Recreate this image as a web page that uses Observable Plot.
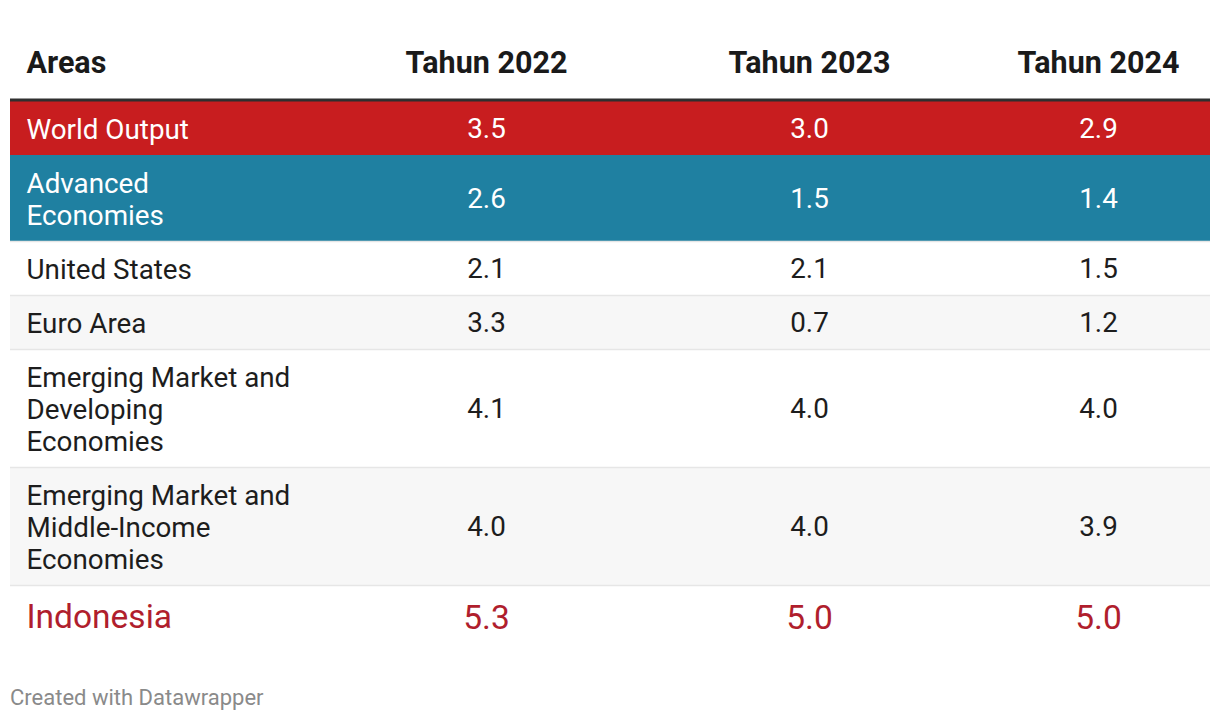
<!DOCTYPE html>
<html>
<head>
<meta charset="utf-8">
<script src="https://cdn.jsdelivr.net/npm/d3@7"></script>
<script src="https://cdn.jsdelivr.net/npm/@observablehq/plot@0.6"></script>
<style>
  html, body { margin: 0; padding: 0; background: #fff; }
  body { width: 1220px; height: 722px; position: relative; font-family: Roboto, "Noto Sans", sans-serif; }
  #chart { position: absolute; left: 0; top: 0; }
  #footer { position: absolute; left: 10px; top: 685px; font-size: 22px; color: #8a8a8a; font-family: Roboto, sans-serif; }
</style>
</head>
<body>
<div id="chart"></div>
<div id="footer">Created with Datawrapper</div>
<script>
// ---- Data ----
const columns = ["Areas", "Tahun 2022", "Tahun 2023", "Tahun 2024"];
const areas = [
  "World Output",
  "Advanced\nEconomies",
  "United States",
  "Euro Area",
  "Emerging Market and\nDeveloping\nEconomies",
  "Emerging Market and\nMiddle-Income\nEconomies",
  "Indonesia"
];
const values2022 = [3.5, 2.6, 2.1, 3.3, 4.1, 4.0, 5.3];
const values2023 = [3.0, 1.5, 2.1, 0.7, 4.0, 4.0, 5.0];
const values2024 = [2.9, 1.4, 1.5, 1.2, 4.0, 3.9, 5.0];

// ---- Styling per row ----
const rowFill = ["#c81d1f", "#1f80a1", "#ffffff", "#f7f7f7", "#ffffff", "#f7f7f7", "#ffffff"];
const rowText = ["#ffffff", "#ffffff", "#1d1d1d", "#1d1d1d", "#1d1d1d", "#1d1d1d", "#b01e2d"];
const rowFont = [27.8, 27.8, 27.8, 27.8, 27.8, 27.8, 33.5];

// ---- Layout (column anchors within the 1200px table, computed row heights) ----
const colAnchor = {"Areas": 16, "Tahun 2022": 476, "Tahun 2023": 799, "Tahun 2024": 1088};
const headerBottom = 101;
const lineH = 32, pad = 22;
const rows = [];
let y = headerBottom;
areas.forEach((a, i) => {
  const lines = a.split("\n").length;
  const big = i === areas.length - 1;
  const h = big ? 61 : pad + lines * lineH;
  rows.push({
    i, area: a, y1: y, y2: y + h, ym: y + h / 2 + (big ? 2 : 0.5), fill: rowFill[i], color: rowText[i], size: rowFont[i],
    v: [values2022[i], values2023[i], values2024[i]]
  });
  y += h;
});
const H = 660;

const cells = [];
rows.forEach(r => {
  columns.slice(1).forEach((c, k) => cells.push({col: c, y: r.ym, text: r.v[k].toFixed(1), color: r.color, size: r.size}));
});

const textMarks = [];
// Header
textMarks.push(Plot.text([columns[0]], {x: d => colAnchor[d], y: () => 63, text: d => d, textAnchor: "start", fontSize: 30.5, fontWeight: "bold", fill: "#1a1a1a"}));
textMarks.push(Plot.text(columns.slice(1), {x: d => colAnchor[d], y: () => 63, text: d => d, textAnchor: "middle", fontSize: 30.5, fontWeight: "bold", fill: "#1a1a1a"}));
// Row labels and values, grouped by font size
for (const size of [...new Set(rowFont)]) {
  const rs = rows.filter(r => r.size === size);
  textMarks.push(Plot.text(rs, {x: () => colAnchor["Areas"], y: "ym", text: "area", textAnchor: "start", fontSize: size, lineHeight: lineH / size, fill: "color"}));
  textMarks.push(Plot.text(cells.filter(c => c.size === size), {x: d => colAnchor[d.col], y: "y", text: "text", textAnchor: "middle", fontSize: size, fill: "color"}));
}

const separators = rows.slice(1).map(r => ({y: r.y1, light: r.i > 1}));

const chart = Plot.plot({
  width: 1220,
  height: H,
  marginLeft: 10,
  marginRight: 10,
  marginTop: 0,
  marginBottom: 0,
  style: {fontFamily: "Roboto, 'Noto Sans', sans-serif", background: "#fff"},
  x: {type: "linear", domain: [0, 1200], axis: null},
  y: {type: "linear", domain: [0, H], range: [0, H], axis: null},
  color: {type: "identity"},
  marks: [
    Plot.rect(rows, {y1: "y1", y2: "y2", fill: "fill"}),
    Plot.ruleY(separators.filter(d => d.light), {y: "y", stroke: "#e6e6e6", strokeWidth: 1.5}),
    Plot.ruleY([headerBottom - 1.5], {y: d => d, stroke: "#2f2f2f", strokeWidth: 3}),
    ...textMarks
  ]
});
document.getElementById("chart").appendChild(chart);
</script>
</body>
</html>
